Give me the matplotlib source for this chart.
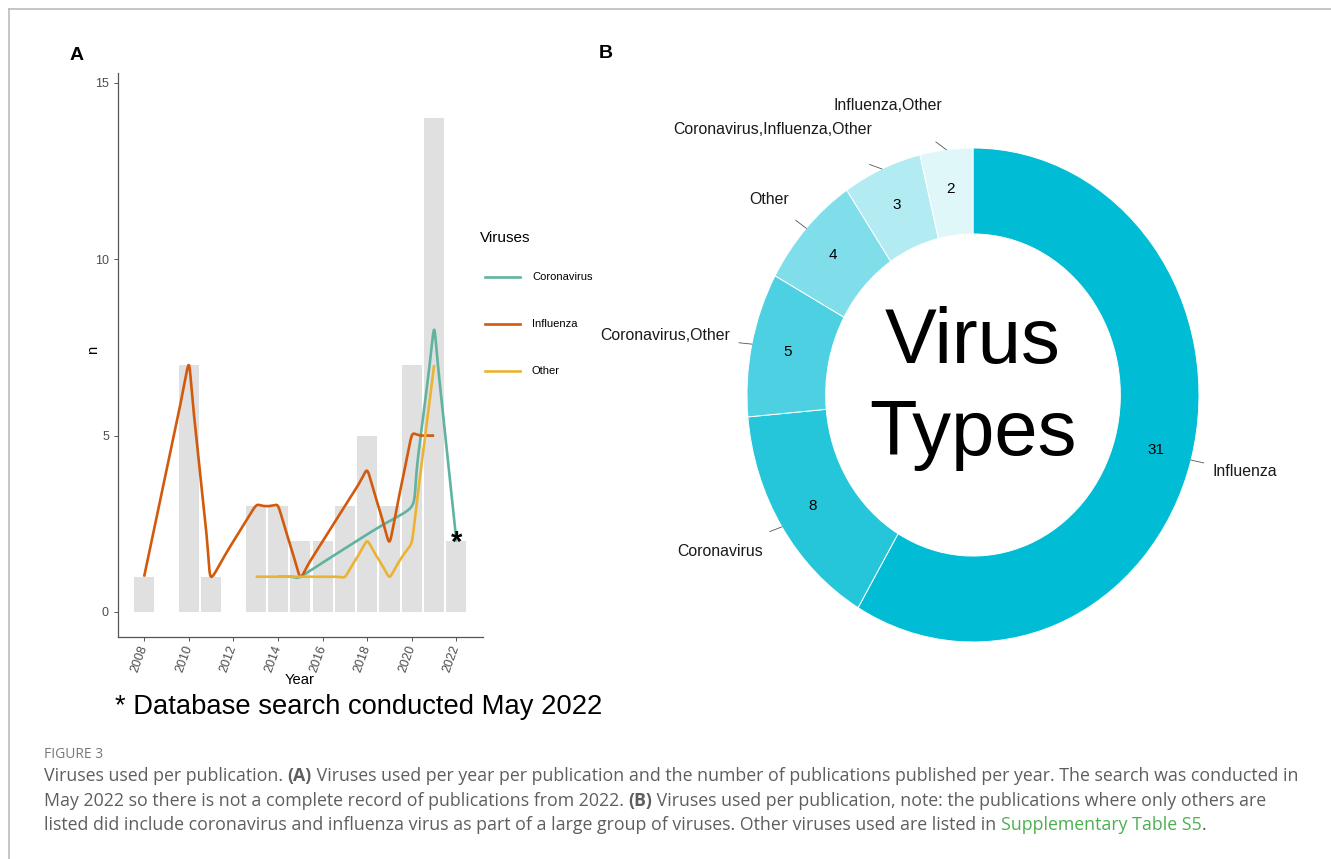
import numpy as np
import matplotlib
matplotlib.use("Agg")
import matplotlib.pyplot as plt
from matplotlib.lines import Line2D

# publications per year (bars)
bar_years = [2008, 2010, 2011, 2013, 2014, 2015, 2016, 2017, 2018, 2019, 2020, 2021, 2022]
bar_n = [1, 7, 1, 3, 3, 2, 2, 3, 5, 3, 7, 14, 2]

# viruses per year (lines)
corona_years = [2014, 2015, 2020, 2021, 2022]
corona_n = [1, 1, 3, 8, 2]
flu_years = [2008, 2010, 2011, 2013, 2014, 2015, 2016, 2017, 2018, 2019, 2020, 2021]
flu_n = [1, 7, 1, 3, 3, 1, 2, 3, 4, 2, 5, 5]
other_years = [2013, 2014, 2015, 2016, 2017, 2018, 2019, 2020, 2021]
other_n = [1, 1, 1, 1, 1, 2, 1, 2, 7]

# donut
donut_labels = ["Influenza", "Coronavirus", "Coronavirus,Other", "Other",
                "Coronavirus,Influenza,Other", "Influenza,Other"]
donut_n = [31, 8, 5, 4, 3, 2]
donut_colors = ["#00BCD4", "#26C6DA", "#4DD0E1", "#80DEEA", "#B2EBF2", "#E0F7FA"]

line_colors = {"Coronavirus": "#5FB3A0", "Influenza": "#D25A0C", "Other": "#EBB334"}

W, H = 1331, 859
plt.rcParams["font.family"] = ["Liberation Sans", "DejaVu Sans"]
fig = plt.figure(figsize=(W / 100, H / 100), dpi=100)


def fx(px):
    return px / W


def fy(py):
    return 1 - py / H


def rounded(ax, xs, ys, cut=55, n=40):
    # straight segments with rounded corners that still pass through each point
    P = ax.transData.transform(np.column_stack([xs, ys]).astype(float))
    out = [P[0]]
    t = np.linspace(0, 1, n)[:, None]
    for i in range(1, len(P) - 1):
        A, C, B = P[i - 1], P[i], P[i + 1]
        la = np.linalg.norm(C - A)
        lb = np.linalg.norm(B - C)
        S = C + (A - C) / la * min(cut, 0.5 * la)
        E = C + (B - C) / lb * min(cut, 0.5 * lb)
        c1 = S + 4 / 3 * (C - S)
        c2 = E + 4 / 3 * (C - E)
        out.extend((1 - t) ** 3 * S + 3 * (1 - t) ** 2 * t * c1 + 3 * (1 - t) * t ** 2 * c2 + t ** 3 * E)
    out.append(P[-1])
    pts = ax.transData.inverted().transform(np.array(out))
    return pts[:, 0], pts[:, 1]


# ---- panel A ----
ax = fig.add_axes([fx(118), fy(637), fx(483 - 118), (637 - 73) / H])
ax.set_xlim(2006.83, 2023.19)
ax.set_ylim(-0.71, 15.28)
ax.bar(bar_years, bar_n, width=0.9, color="#E0E0E0", zorder=1)

for name, xs, ys in [("Coronavirus", corona_years, corona_n),
                     ("Influenza", flu_years, flu_n),
                     ("Other", other_years, other_n)]:
    sx, sy = rounded(ax, xs, ys)
    ax.plot(sx, sy, color=line_colors[name], lw=1.9, solid_capstyle="butt",
            solid_joinstyle="round", zorder=3)

ax.text(2022, 1.72, "*", ha="center", va="baseline", fontsize=21, fontweight="bold", zorder=4)

for s in ["top", "right"]:
    ax.spines[s].set_visible(False)
for s in ["left", "bottom"]:
    ax.spines[s].set_color("#555555")
    ax.spines[s].set_linewidth(0.9)
ax.set_yticks([0, 5, 10, 15])
ax.set_xticks(range(2008, 2023, 2))
ax.tick_params(colors="#555555", labelcolor="#4D4D4D", labelsize=9, length=3, width=0.7)
for lab in ax.get_xticklabels():
    lab.set_rotation(70)
    lab.set_ha("right")
    lab.set_va("center")
    lab.set_rotation_mode("anchor")
ax.set_xlabel("Year", fontsize=10.6)
ax.set_ylabel("n", fontsize=10.6)
ax.xaxis.set_label_coords((300 - 118) / 365, (637 - 680) / 564)
ax.xaxis.label.set_va("center")
ax.yaxis.set_label_coords((93 - 118) / 365, (637 - 350) / 564)
ax.yaxis.label.set_va("center")

# legend
fig.text(fx(480), fy(238), "Viruses", fontsize=11, va="center", ha="left")
for i, name in enumerate(["Coronavirus", "Influenza", "Other"]):
    yy = fy(277 + 47 * i)
    fig.add_artist(Line2D([fx(485), fx(520)], [yy, yy], color=line_colors[name], lw=1.9))
    fig.text(fx(532), yy, name, fontsize=8, va="center", ha="left")

fig.text(fx(115), fy(707), "* Database search conducted May 2022", fontsize=19.7, va="center", ha="left")

fig.text(fx(70), fy(55), "A", fontsize=14, fontweight="bold", va="center", ha="left")
fig.text(fx(599), fy(53), "B", fontsize=14, fontweight="bold", va="center", ha="left")

# ---- panel B: donut ----
cx, cy, rx, ry = 973, 395, 226, 247
lim = 1.2
ax2 = fig.add_axes([fx(cx - lim * rx), fy(cy + lim * ry), 2 * lim * rx / W, 2 * lim * ry / H])
wedges, _ = ax2.pie(donut_n, colors=donut_colors, startangle=90, counterclock=False,
                    radius=1, wedgeprops=dict(width=0.348, edgecolor="white", linewidth=0.7))
ax2.set_aspect("auto")
ax2.set_xlim(-lim, lim)
ax2.set_ylim(-lim, lim)
ax2.axis("off")

label_pos = [(1245, 472), (720, 551), (665, 335), (769, 200), (773, 129), (888, 106)]
total = sum(donut_n)
cum = 0
for lab, v, (lx, ly) in zip(donut_labels, donut_n, label_pos):
    mid = np.deg2rad(90 - (cum + v / 2) / total * 360)
    cum += v
    ax2.text(0.84 * np.cos(mid), 0.84 * np.sin(mid), str(v), ha="center", va="center", fontsize=11)
    # leader line from ring edge towards label
    tx, ty = (lx - cx) / rx, (cy - ly) / ry
    sx, sy = np.cos(mid), np.sin(mid)
    dxp, dyp = (tx - sx) * rx, (ty - sy) * ry
    L = np.hypot(dxp, dyp)
    ex, ey = sx + dxp / L * 13 / rx, sy + dyp / L * 13 / ry
    ax2.plot([sx, ex], [sy, ey], color="#555555", lw=0.6, clip_on=False)
    ax2.text(tx, ty, lab, ha="center", va="center", fontsize=11.4, color="#1a1a1a")

ax2.text(0, (cy - 363) / ry, "Virus", ha="center", va="baseline", fontsize=56)
ax2.text(0, (cy - 455) / ry, "Types", ha="center", va="baseline", fontsize=56)

# ---- frame and caption ----
fig.add_artist(Line2D([fx(9), 1], [fy(9), fy(9)], color="#BBBBBB", lw=1.2))
fig.add_artist(Line2D([fx(9), fx(9)], [fy(9), 0], color="#BBBBBB", lw=1.2))

cap_font = ["Open Sans", "DejaVu Sans"]
cap_col = "#5E5E5E"
fig.text(fx(44), fy(754), "FIGURE 3", fontsize=10, color="#777777", family=cap_font, va="center")

renderer = fig.canvas.get_renderer()


def runs(y, parts):
    x = fx(44)
    for txt, bold, col in parts:
        t = fig.text(x, fy(y), txt, fontsize=12.75, color=col, family=cap_font, va="center",
                     fontweight="bold" if bold else "normal")
        x += t.get_window_extent(renderer).width / W


runs(776, [("Viruses used per publication. ", False, cap_col), ("(A)", True, cap_col),
           (" Viruses used per year per publication and the number of publications published per year. The search was conducted in", False, cap_col)])
runs(801, [("May 2022 so there is not a complete record of publications from 2022. ", False, cap_col), ("(B)", True, cap_col),
           (" Viruses used per publication, note: the publications where only others are", False, cap_col)])
runs(825, [("listed did include coronavirus and influenza virus as part of a large group of viruses. Other viruses used are listed in ", False, cap_col),
           ("Supplementary Table S5", False, "#4CAF50"), (".", False, cap_col)])

fig.savefig("out.png", dpi=100)
